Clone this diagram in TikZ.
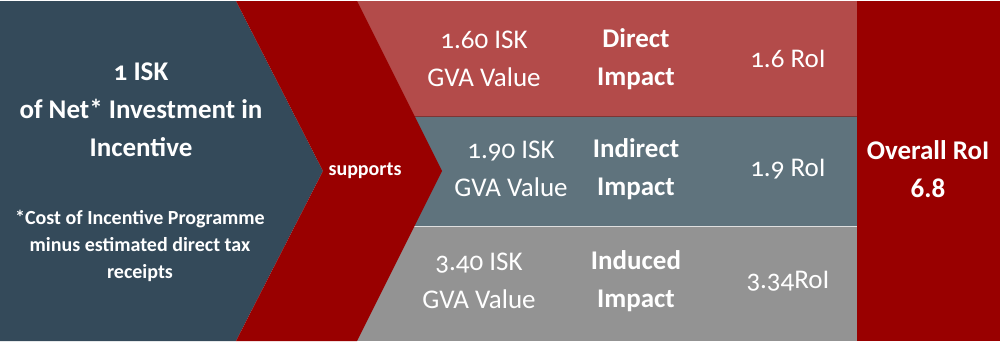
\documentclass[tikz,border=0pt]{standalone}
\usepackage{fontspec}
\setmainfont{Carlito}[Numbers=OldStyle]
\newfontfamily\liningfont{Carlito}[Numbers=Lining]

\definecolor{panelblue}{RGB}{52,74,90}
\definecolor{chevronred}{RGB}{153,0,0}
\definecolor{rowred}{RGB}{179,75,74}
\definecolor{rowteal}{RGB}{95,115,125}
\definecolor{rowgray}{RGB}{147,147,147}

\tikzset{
    valtxt/.style={text=white, align=center, inner sep=0pt, font=\fontsize{13.5}{19}\selectfont},
    boldtxt/.style={text=white, align=center, inner sep=0pt, font=\fontsize{13.5}{19}\selectfont\bfseries},
    notetxt/.style={text=white, align=center, inner sep=0pt, font=\fontsize{10}{13.3}\selectfont\bfseries},
}

\begin{document}
\begin{tikzpicture}[x=0.5pt, y=-0.5pt]
        % --- canvas ---
        \useasboundingbox (0,0) rectangle (1000,343);
        \fill[white] (0,0) rectangle (1000,343);

        % --- impact rows ---
        \fill[rowred]  (340,1)   rectangle (857,116);
        \fill[rowteal] (340,116) rectangle (857,226);
        \fill[rowgray] (340,226) rectangle (857,341);
        \draw[white!75!gray, thin] (340,226) -- (857,226);
        \draw[black!30!rowred, thin] (340,116) -- (857,116);

        % --- overall column ---
        \fill[chevronred] (857,1) rectangle (1000,341);

        % --- left panel and chevron ---
        \fill[panelblue] (0,1) -- (236,1) -- (323,171) -- (236,341) -- (0,341) -- cycle;
        \fill[chevronred] (236,1) -- (357,1) -- (442,171) -- (357,341) -- (236,341) -- (323,171) -- cycle;

        % --- left panel text ---
        \node[boldtxt] (invest) at (141,110) {1 ISK\\of Net* Investment in\\Incentive};
        \node[notetxt] (note) at (140,246) {*Cost of Incentive Programme\\minus estimated direct tax\\receipts};
        \node[notetxt] (supports) at (365,171) {supports};

        % --- row text ---
        % \foreach <y>/<value x>/<value>/<kind>/<roi>
        \foreach \y/\vx/\val/\kind/\roi [count=\i] in {
            59/484/1.60 ISK/Direct/1.6 RoI,
            169/511/1.90 ISK/Indirect/1.9 RoI,
            281/479/3.40 ISK/Induced/3.34RoI} {
            \node[valtxt] (value\i) at (\vx,\y) {\val\\GVA Value};
            \node[boldtxt] (impact\i) at (636,\y) {\kind\\Impact};
            \node[valtxt] (roi\i) at (788,\y) {\roi};
        }

        % --- overall ---
        \node[boldtxt, font=\fontsize{13.5}{19}\selectfont\bfseries\liningfont] (overall) at (928,169) {Overall RoI\\6.8};
\end{tikzpicture}
\end{document}
